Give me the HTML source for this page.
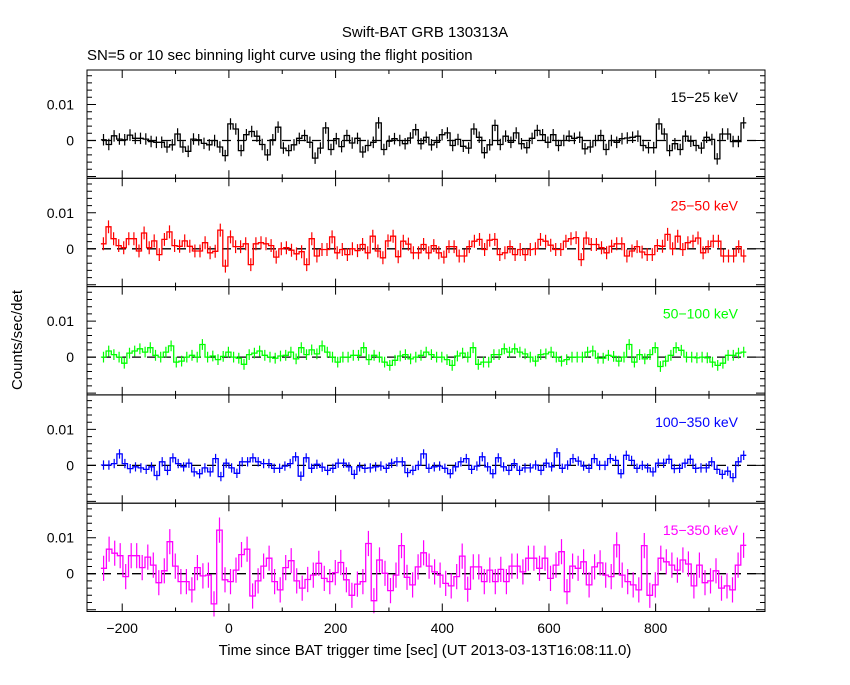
<!DOCTYPE html>
<html><head><meta charset="utf-8"><style>
body{margin:0;background:#fff}
svg text{font-family:"Liberation Sans",sans-serif}
</style></head><body>
<svg id="c" width="850" height="680" viewBox="0 0 850 680">
<rect width="850" height="680" fill="#fff"/>
<text x="425" y="37" text-anchor="middle" font-size="15">Swift-BAT GRB 130313A</text>
<text x="87" y="60" font-size="15">SN=5 or 10 sec binning light curve using the flight position</text>
<text transform="translate(22,340) rotate(-90)" text-anchor="middle" font-size="15">Counts/sec/det</text>
<text x="425" y="655" text-anchor="middle" font-size="15">Time since BAT trigger time [sec] (UT 2013-03-13T16:08:11.0)</text>
</svg>
<script>
// values in units of 0.001 counts/sec/det
const black=[0.2,-1.1,1.3,0.4,0.2,1.5,0.6,0.6,0.4,-0.3,-0.5,-0.5,-1.8,-1.2,1.8,-1.8,-3,0.4,0.2,-0.8,-1.2,0,-1.8,-4.2,4.6,3.2,-2.8,1.6,2.5,1.2,-1.1,-4,0.2,3.7,-2.1,-2.8,-1.2,0.6,1.4,-0.5,-4.9,-2.1,3.5,-2.5,0.5,-1.7,1.4,-0.7,0.6,-3.2,-1.4,-0.5,4.9,-2.5,-0.2,0.5,0,-0.9,0.7,3,-0.9,0.9,-1.2,-0.5,1.6,2.1,-1.4,0.3,-1.6,-2.1,3.2,0.9,-3.4,-1.2,4.2,-1.1,1.2,-0.5,2.1,-0.9,-2,0.6,2.8,1.6,-0.5,1.6,-1.4,0,1.2,0.6,0.9,-2.3,-1.8,0,1.4,-2.5,0,-0.5,0.5,0.7,0.9,1.2,-1.4,-2,-2,4.6,1.8,-2.8,-0.9,-2.5,1.2,-0.2,-1.4,-2.1,0.9,0.3,-5.1,1.8,1.8,-0.3,-0.3,4.9];
const red=[1.4,6.1,2.8,0.9,0.3,2.8,2.8,-0.6,4.4,0.3,2.2,-1.6,2.6,4.7,0.9,0.7,2.2,0.7,-0.6,-0.6,1.7,-1.1,-0.7,5.2,-4.8,3.3,0.6,0.6,1.4,-4.4,1.4,1.7,1.4,0.9,-2.3,0,0.3,-0.4,-1.4,-0.8,-4.4,2.8,-2,-0.2,-0.2,3.3,-1.1,-0.2,-1.6,0,-0.5,1.2,-1.1,3.5,-0.6,-2.5,2.2,3.5,-2.2,2.1,1.3,-1.1,-1.1,1.2,-1.1,0.9,-1.1,-2.3,0.6,0.6,-2,-2,0.6,2.1,2.6,-0.2,2.4,2.6,-1.6,-1.1,0.6,-1.6,-0.2,-1.6,-0.2,0,2.6,2.1,1,-0.2,-0.2,2.1,2.8,3.1,-3,3,1.2,1.2,0.3,-1.1,0.7,1.4,1.4,-2,-0.6,0.6,-0.9,-1.6,-1.6,0.9,0.7,4,0,3.5,-0.2,1.7,2.1,3,-1.1,0.6,2.1,2.1,-2,-2,-2,0.6,-2];
const green=[0,1.7,0.7,0,-1.7,1.1,1.7,2.3,1.4,2.6,0.5,0,1.4,3.1,-1.4,-1.1,0,0.5,0,3.5,0,0.3,-0.7,0.2,1.4,0,-0.3,-2,0.7,1.1,1.7,0.5,0,-0.3,0.3,0.5,1.4,-0.5,2.6,0.7,2,0.9,3.1,1.4,0,-1.4,0,0,0.5,0.5,2.6,-0.7,0.5,0,-1.4,-2.3,-0.9,0.3,0.7,-0.5,0,0.5,1.4,0.7,0,0,-0.7,-2.3,0.3,1.1,0,2.6,-2,-1.4,-1.4,0.7,0.7,2.3,1.4,2.3,1.4,0.9,0,-1.1,0.7,0.9,1.4,0,-1.1,-0.7,0,0,0,1.4,1.7,-0.3,-0.3,0.5,0.2,-1.1,0,3.5,-1.4,0.7,-0.5,0.7,2.6,-2.6,-1.1,0.5,2.6,1.9,0,0,-0.2,0,-0.2,-1.4,-2.3,-1.7,0.5,0.5,1.1,1.4];
const blue=[0.1,0.1,0.5,3.2,0.5,-0.9,-0.4,-0.7,-1.1,-0.4,-2.8,1,-1.4,2.1,0.5,-0.4,0.6,-1.8,-2.3,-0.7,-1.8,1.9,-3.1,0.6,-0.7,-2.2,1,1,2.1,1,0.5,0.5,-0.8,-0.8,-0.2,0.5,2.4,-3,2.1,-0.8,0.3,-0.5,-1.4,-0.8,0.6,0.6,-0.4,-2.5,-0.4,-0.8,-0.7,-0.4,-0.2,-0.8,0.6,1,1,-2,-1.4,0,3.2,-0.8,-0.4,-0.2,-0.8,-2.3,-0.4,1,1.9,-1.1,-0.2,2.4,-0.4,-2.3,2.1,-0.4,-1.4,0.5,-1.4,-0.7,-0.7,0.1,-1.4,0.6,-0.4,3.5,-0.8,0.1,1.9,1.2,-0.2,-0.8,1.9,0,0,1.9,1.4,-2.3,2.8,1.4,-0.8,0,-0.7,-1.8,0.6,0.6,1.7,-0.9,-0.8,0.6,1.7,-0.8,-0.7,-0.7,1,-1.1,-2.5,-1.6,-3.4,1,2.8];
const magenta=[1.5,6.8,5.7,5,-0.8,5,5,1.7,4.6,2.4,-2.5,0.8,8.9,2.1,-2.2,-2.2,-4.5,1.7,-0.6,-0.4,-8.4,12.1,-1.7,-2.2,1,5.3,6.8,-6.2,-2,2.1,4.3,-2.2,-4.5,1.7,3.6,-2,-4,-1.6,-0.4,2.9,-1.3,-2.2,0.3,3.1,-1.7,-6,-2.9,-2.2,8.4,-7.5,3.8,0.1,-4.7,-0.4,7.8,-1,-3.1,1.9,5.8,2.1,0.5,-0.4,-2.7,-3.4,-0.8,4.9,-4.3,1.9,1.9,-2.2,1,-2.2,1.2,-2.2,2.1,2.1,0.5,4.3,4.3,1.5,4.3,-1.3,2.4,6.1,-5,2.1,1.5,3.3,-3.1,1.9,3,-0.4,-0.8,8,-0.4,-2.2,-3.1,-4.5,7.8,-6,-3.1,4.3,3.3,2.4,1,3.8,2.7,-3.4,2.4,-2.5,-2,0.8,-4,-3.4,-4.5,2.4,7.9];
const errs=[1.6,1.8,1.5,1.3,3.5];
const bandLabels=["15-25 keV","25-50 keV","50-100 keV","100-350 keV","15-350 keV"];
const xTicks=[-200,0,200,400,600,800];
const yTickLabels=["0","0.01"];
const series=[black,red,green,blue,magenta];
const colors=["#000","#f00","#0f0","#00f","#f0f"];
const names=["band-15-25","band-25-50","band-50-100","band-100-350","band-15-350"];

const NS="http://www.w3.org/2000/svg";
const svg=document.getElementById('c');
const X0=87,X1=765,T0=-266,T1=1005,TSTART=-240,TEND=970;
const PT=70,PH=108.3,ZOFF=70.5,YS=3.6;
const xs=t=>X0+(t-T0)/(T1-T0)*(X1-X0);
function el(tag,attrs,parent){const e=document.createElementNS(NS,tag);for(const k in attrs)e.setAttribute(k,attrs[k]);(parent||svg).appendChild(e);return e;}

series.forEach((vals,p)=>{
  const top=PT+p*PH, bot=top+PH;
  const ys=v=>top+ZOFF-v*YS;
  const g=el('g',{});
  
  
  const zl=el('line',{x1:X0,x2:X1,y1:ys(0),y2:ys(0),stroke:'#000','stroke-dasharray':'9,6','stroke-width':1.3},g);
  
  
  const n=vals.length,w=(TEND-TSTART)/n;
  let d='';
  vals.forEach((v,i)=>{
    const a=xs(TSTART+i*w),b=xs(TSTART+(i+1)*w),y=ys(v);
    d+=(i===0?'M':'L')+a.toFixed(1)+','+y.toFixed(1)+'L'+b.toFixed(1)+','+y.toFixed(1);
  });
  const path=el('path',{d:d,fill:'none',stroke:colors[p],'stroke-width':1.3},g);
  
  
  let ed='';
  vals.forEach((v,i)=>{
    const c=xs(TSTART+(i+0.5)*w);
    ed+='M'+c.toFixed(1)+','+ys(v+errs[p]).toFixed(1)+'L'+c.toFixed(1)+','+ys(v-errs[p]).toFixed(1);
  });
  const ep=el('path',{d:ed,fill:'none',stroke:colors[p],'stroke-width':1.2},g);
  
  
  const fr=el('rect',{x:X0,y:top,width:X1-X0,height:PH,fill:'none',stroke:'#000','stroke-width':1},g);
  
  
  let td='';
  for(let v=-10;v<=18;v+=2){
    const y=ys(v); if(y<top+1||y>bot-1)continue;
    const L=(v%10===0)?9:5;
    td+='M'+X0+','+y+'h'+L+'M'+X1+','+y+'h'+(-L);
  }
  for(let t=-200;t<=900;t+=100){
    const x=xs(t); const L=(t%200===0)?8:4;
    td+='M'+x+','+bot+'v'+(-L)+'M'+x+','+top+'v'+L;
  }
  const tk=el('path',{d:td,stroke:'#000','stroke-width':1},g);
  
  
  yTickLabels.forEach((s,k)=>{
    const t=el('text',{x:X0-13,y:ys(k*10)+5,'text-anchor':'end','font-size':14},g);
    t.textContent=s;
    
    
  });
  const lb=el('text',{x:X1-27,y:top+32,'text-anchor':'end','font-size':14,fill:colors[p]},g);
  lb.textContent=bandLabels[p].replace('-','\u2212');
  
  
});
xTicks.forEach(t=>{
  const tx=el('text',{x:xs(t),y:633,'text-anchor':'middle','font-size':14});
  tx.textContent=t<0?'\u2212'+(-t):String(t);
  
  
});
</script>
</body></html>
